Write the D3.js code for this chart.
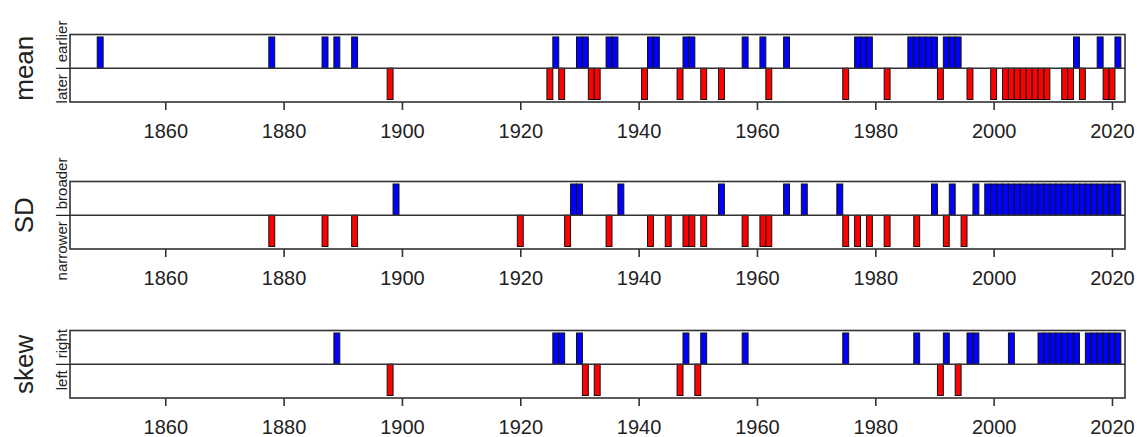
<!DOCTYPE html>
<html>
<head>
<meta charset="utf-8">
<script src="https://cdn.jsdelivr.net/npm/d3@7"></script>
<style>
  body { margin: 0; background: #fff; }
  svg { display: block; font-family: "Liberation Sans", Arial, sans-serif; }
</style>
</head>
<body>
<script>
// years flagged in each panel (upper half = blue, lower half = red)
var meanEarlier = [1849, 1878, 1887, 1889, 1892, 1926, 1930, 1931, 1935, 1936, 1942, 1943, 1948, 1949,
  1958, 1961, 1965, 1977, 1978, 1979, 1986, 1987, 1988, 1989, 1990, 1992, 1993, 1994, 2014, 2018, 2021];
var meanLater = [1898, 1925, 1927, 1932, 1933, 1941, 1947, 1951, 1954, 1962, 1975, 1982, 1991, 1996,
  2000, 2002, 2003, 2004, 2005, 2006, 2007, 2008, 2009, 2012, 2013, 2015, 2019, 2020];

var sdBroader = [1899, 1929, 1930, 1937, 1954, 1965, 1968, 1974, 1990, 1993, 1997,
  1999, 2000, 2001, 2002, 2003, 2004, 2005, 2006, 2007, 2008, 2009, 2010, 2011, 2012,
  2013, 2014, 2015, 2016, 2017, 2018, 2019, 2020, 2021];
var sdNarrower = [1878, 1887, 1892, 1920, 1928, 1935, 1942, 1945, 1948, 1949, 1951, 1958, 1961,
  1962, 1975, 1977, 1979, 1982, 1987, 1992, 1995];

var skewRight = [1889, 1926, 1927, 1930, 1948, 1951, 1958, 1975, 1987, 1992, 1996, 1997, 2003,
  2008, 2009, 2010, 2011, 2012, 2013, 2014, 2016, 2017, 2018, 2019, 2020, 2021];
var skewLeft = [1898, 1931, 1933, 1947, 1950, 1991, 1994];

var panelNames = ["mean", "SD", "skew"];
var upLabels = ["earlier", "broader", "right"];
var downLabels = ["later", "narrower", "left"];
var tickYears = [1860, 1880, 1900, 1920, 1940, 1960, 1980, 2000, 2020];

var panels = [
  { name: panelNames[0], up: upLabels[0], down: downLabels[0], pos: meanEarlier, neg: meanLater },
  { name: panelNames[1], up: upLabels[1], down: downLabels[1], pos: sdBroader, neg: sdNarrower },
  { name: panelNames[2], up: upLabels[2], down: downLabels[2], pos: skewRight, neg: skewLeft }
];

// layout
var width = 1137, height = 437,
  boxLeft = 70, boxRight = 1125,
  boxHeight = 67.5,
  panelTops = [34.5, 181.5, 330.5];

var x = d3.scaleLinear().domain([1843.9, 2022.2]).range([boxLeft, boxRight]);
var barW = x(1) - x(0);

var svg = d3.select("body").append("svg")
  .attr("width", width)
  .attr("height", height);

panels.forEach(function (p, i) {
  var top = panelTops[i];
  var y = d3.scaleLinear().domain([-1.08, 1.08]).range([top + boxHeight, top]);
  var g = svg.append("g");

  // bars
  g.selectAll("rect.up")
    .data(p.pos)
    .enter()
    .append("rect")
    .attr("class", "up")
    .attr("x", function (d) { return x(d) - barW / 2; })
    .attr("y", y(1))
    .attr("width", barW)
    .attr("height", y(0) - y(1))
    .attr("fill", "#0000ff")
    .attr("stroke", "#111")
    .attr("stroke-width", 1);

  g.selectAll("rect.down")
    .data(p.neg)
    .enter()
    .append("rect")
    .attr("class", "down")
    .attr("x", function (d) { return x(d) - barW / 2; })
    .attr("y", y(0))
    .attr("width", barW)
    .attr("height", y(-1) - y(0))
    .attr("fill", "#ff0000")
    .attr("stroke", "#111")
    .attr("stroke-width", 1);

  // frame and zero line
  g.append("rect")
    .attr("x", boxLeft)
    .attr("y", top)
    .attr("width", boxRight - boxLeft)
    .attr("height", boxHeight)
    .attr("fill", "none")
    .attr("stroke", "#333")
    .attr("stroke-width", 1.6);

  g.append("line")
    .attr("x1", boxLeft)
    .attr("x2", boxRight)
    .attr("y1", y(0))
    .attr("y2", y(0))
    .attr("stroke", "#333")
    .attr("stroke-width", 1.6);

  // x axis
  var axis = g.append("g")
    .attr("transform", "translate(0," + (top + boxHeight) + ")")
    .call(d3.axisBottom(x).tickValues(tickYears).tickFormat(d3.format("d"))
      .tickSize(8).tickSizeOuter(0).tickPadding(14));
  axis.select(".domain").remove();
  axis.selectAll("line").attr("stroke", "#333").attr("stroke-width", 1.6);
  axis.selectAll("text").attr("font-size", "20px").attr("fill", "#222")
    .attr("font-family", "Liberation Sans, Arial, sans-serif");

  // panel title
  var mid = y(0);
  g.append("text")
    .text(p.name)
    .attr("transform", "translate(33," + mid + ") rotate(-90)")
    .attr("text-anchor", "middle")
    .attr("font-size", "26px")
    .attr("fill", "#222");

  // direction labels, "|" sitting on the zero line
  var lab = g.append("g")
    .attr("transform", "translate(67," + mid + ") rotate(-90)")
    .attr("font-size", "15px")
    .attr("fill", "#222");
  lab.append("text").text(p.down).attr("x", -6).attr("text-anchor", "end");
  lab.append("text").text("|").attr("x", 0).attr("text-anchor", "middle");
  lab.append("text").text(p.up).attr("x", 6).attr("text-anchor", "start");
});
</script>
</body>
</html>
